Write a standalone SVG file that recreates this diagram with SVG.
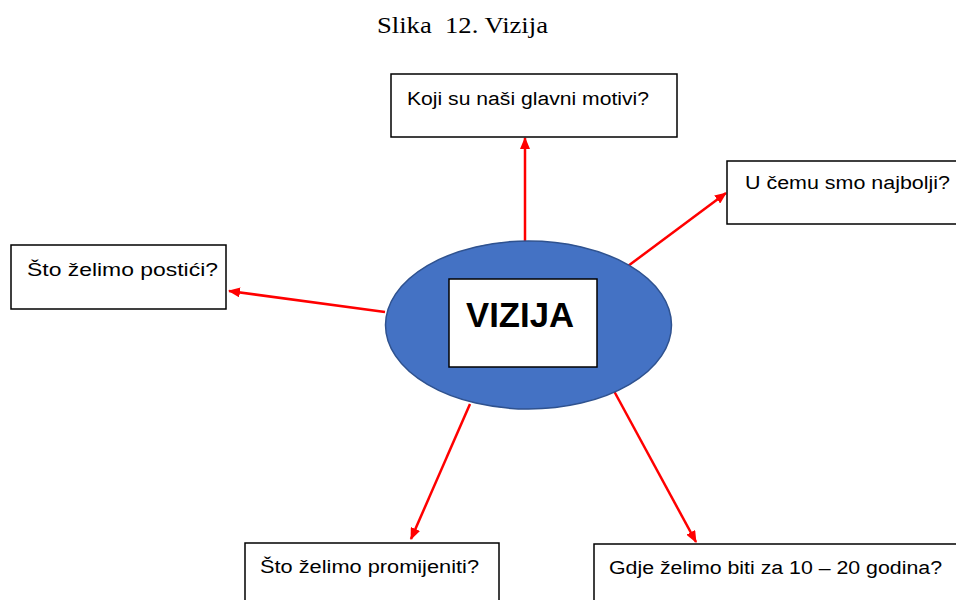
<svg xmlns="http://www.w3.org/2000/svg" width="956" height="600" viewBox="0 0 956 600">
<defs>
<style>
.box{fill:#fff;stroke:#000;stroke-width:1.5}
.lbl{font-family:"Liberation Sans",Arial,sans-serif;font-size:18px;fill:#000}
.con{stroke:#ff0000;stroke-width:2.5;fill:none;marker-end:url(#ah)}
</style>
<marker id="ah" markerUnits="userSpaceOnUse" markerWidth="12" markerHeight="10" refX="11" refY="5" orient="auto">
<path d="M0,0 L12,5 L0,10 z" fill="#ff0000"/>
</marker>
</defs>
<rect width="956" height="600" fill="#fff"/>
<text x="377" y="33" xml:space="preserve" style="white-space:pre" font-family="Liberation Serif,Times New Roman,serif" font-size="23" textLength="171" lengthAdjust="spacingAndGlyphs" fill="#000">Slika  12. Vizija</text>
<g id="connectors">
<line class="con" x1="525" y1="241" x2="525" y2="138"/>
<line class="con" x1="628" y1="266" x2="726" y2="193"/>
<line class="con" x1="385" y1="312" x2="229" y2="291"/>
<line class="con" x1="470" y1="404" x2="411" y2="539"/>
<line class="con" x1="614" y1="391" x2="696" y2="542"/>
</g>
<g id="vizija">
<ellipse cx="528.5" cy="325" rx="143" ry="84" fill="#4472C4" stroke="#2F528F" stroke-width="1.5"/>
<rect x="449" y="279" width="148" height="88" class="box"/>
<text x="520" y="327" text-anchor="middle" font-family="Liberation Sans,Arial,sans-serif" font-weight="bold" font-size="35" textLength="108" lengthAdjust="spacingAndGlyphs" fill="#000">VIZIJA</text>
</g>
<g id="motivi">
<rect x="391" y="74" width="286" height="63" class="box"/>
<text x="407" y="105" class="lbl" textLength="242" lengthAdjust="spacingAndGlyphs">Koji su naši glavni motivi?</text>
</g>
<g id="najbolji">
<rect x="727" y="161" width="235" height="63" class="box"/>
<text x="745" y="189" class="lbl" textLength="205" lengthAdjust="spacingAndGlyphs">U čemu smo najbolji?</text>
</g>
<g id="postici">
<rect x="11" y="245" width="215" height="64" class="box"/>
<text x="27" y="276" class="lbl" textLength="191" lengthAdjust="spacingAndGlyphs">Što želimo postići?</text>
</g>
<g id="promijeniti">
<rect x="245" y="543" width="254" height="70" class="box"/>
<text x="260" y="573" class="lbl" textLength="219" lengthAdjust="spacingAndGlyphs">Što želimo promijeniti?</text>
</g>
<g id="godina">
<rect x="594" y="544" width="370" height="70" class="box"/>
<text x="609" y="574" class="lbl" textLength="333" lengthAdjust="spacingAndGlyphs">Gdje želimo biti za 10 – 20 godina?</text>
</g>
</svg>
